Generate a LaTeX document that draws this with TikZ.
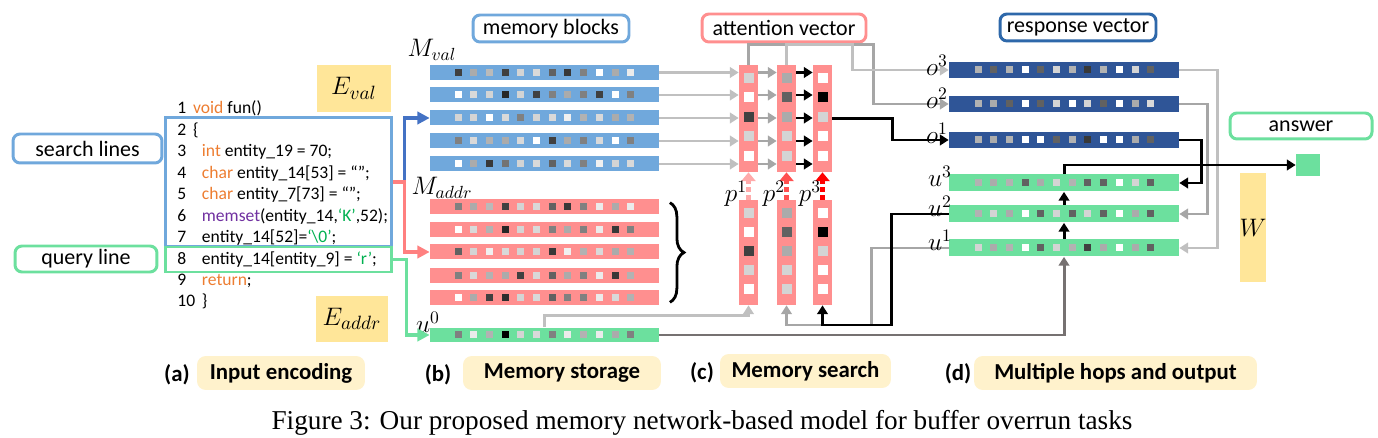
\documentclass[tikz,border=0pt]{standalone}
\usepackage{fontspec}
\setmainfont{Carlito}
\newfontfamily\capfont{Liberation Serif}
\usetikzlibrary{arrows.meta,decorations.pathreplacing}
\definecolor{memblue}{RGB}{112,168,220}
\definecolor{mempink}{RGB}{255,143,143}
\definecolor{memgreen}{RGB}{108,224,158}
\definecolor{respblue}{RGB}{47,85,151}
\definecolor{respframe}{RGB}{46,104,170}
\definecolor{arrowblue}{RGB}{68,114,196}
\definecolor{arrowpink}{RGB}{255,128,128}
\definecolor{encyellow}{RGB}{255,230,153}
\definecolor{tagyellow}{RGB}{255,242,204}
\definecolor{kwcol}{RGB}{237,125,49}
\definecolor{fncol}{RGB}{112,48,160}
\definecolor{strcol}{RGB}{0,176,80}
\definecolor{lgray}{RGB}{192,192,192}
\definecolor{mgray}{RGB}{166,166,166}
\definecolor{dgray}{RGB}{118,113,113}
\definecolor{pone}{RGB}{255,170,170}
\definecolor{ptwo}{RGB}{255,80,80}
\definecolor{pthree}{RGB}{255,0,0}
\newcommand{\kw}[1]{\textcolor{kwcol}{#1}}
\newcommand{\str}[1]{\textcolor{strcol}{#1}}
\begin{document}
\begin{tikzpicture}[x=0.02cm,y=-0.02cm]
	\tikzstyle{Tag} = [draw, rounded corners=4pt, line width=1.7pt, fill=white, inner sep=0pt, font=\fontsize{12.5}{14}\selectfont]
	\tikzstyle{Enc} = [fill=encyellow, inner sep=0pt, font=\fontsize{15}{16}\selectfont]
	\tikzstyle{Row} = [minimum width=4.58cm, minimum height=0.3cm, inner sep=0pt]
	\tikzstyle{Col} = [fill=mempink, minimum width=0.38cm, inner sep=0pt]
	\tikzstyle{Stage} = [fill=tagyellow, rounded corners=5pt, minimum height=0.68cm, inner sep=0pt, font=\bfseries\fontsize{13}{15}\selectfont]
	\tikzstyle{Lab} = [inner sep=0pt, font=\fontsize{14}{15}\selectfont]
	\tikzstyle{Wire} = [line width=1.7pt, -{Triangle[length=5pt,width=6pt]}]
	\tikzstyle{Prob} = [line width=2.5pt, dash pattern=on 2.5pt off 2pt, -{Triangle[length=5pt,width=8pt]}]
	\useasboundingbox (0,0) rectangle (1378,438);

	% input encoding
	\node (slab) at (87.5,148.5) [Tag, draw=memblue, minimum width=2.98cm, minimum height=0.58cm] {search lines};
	\node (qlab) at (86,259) [Tag, draw=memgreen, minimum width=2.84cm, minimum height=0.52cm] {query line};
	\node (srch) at (278.5,182) [draw=memblue, line width=1.7pt, minimum width=4.54cm, minimum height=2.6cm] {};
	\node (qry) at (278.5,259.5) [draw=memgreen, line width=1.7pt, minimum width=4.54cm, minimum height=0.5cm] {};
	\node (code) at (177,114) [anchor=base west, inner sep=0pt, font=\fontsize{10}{12.2}\selectfont] {\begin{tabular}[t]{@{}p{9pt}@{}l@{}}
		1 & \kw{void} fun()\\
		2 & \{\\
		3 & \hspace{5pt}\kw{int} entity\_19 = 70;\\
		4 & \hspace{5pt}\kw{char} entity\_14[53] = “”;\\
		5 & \hspace{5pt}\kw{char} entity\_7[73] = “”;\\
		6 & \hspace{5pt}\textcolor{fncol}{memset}(entity\_14,\str{‘K’},52);\\
		7 & \hspace{5pt}entity\_14[52]=\str{‘\textbackslash 0’};\\
		8 & \hspace{5pt}entity\_14[entity\_9] = \str{‘r’};\\
		9 & \hspace{5pt}\kw{return};\\
		10 & \hspace{5pt}\}
	\end{tabular}};
	\node (eval) at (354,88.5) [Enc, minimum width=1.48cm, minimum height=0.94cm] {$E_{val}$};
	\node (eaddr) at (352,319) [Enc, minimum width=1.44cm, minimum height=0.92cm] {$E_{addr}$};

	% memory storage
	\node (mblk) at (551,28.5) [Tag, draw=memblue, minimum width=3.12cm, minimum height=0.54cm] {memory blocks};
	\foreach \y [count=\i] in {72.5,95,118,141,164}
		\node (mv\i) at (544.5,\y) [Row, fill=memblue] {};
	\foreach \y [count=\i] in {207,229.5,252,275.5,298}
		\node (ma\i) at (544.5,\y) [Row, fill=mempink] {};
	\node (uz) at (544.5,335) [Row, fill=memgreen] {};
	\foreach \y/\vals in {72.5/{75,33,27,75,17,15,62,78,50,0,33,8}, 95/{0,15,17,85,17,75,50,33,50,75,0,50},
		118/{17,17,0,15,50,17,15,6,30,15,33,30}, 141/{50,15,30,33,15,0,75,33,50,15,0,50},
		164/{0,33,78,55,17,15,62,15,50,6,17,15}, 207/{50,33,27,75,17,15,62,78,50,8,33,8},
		229.5/{0,15,30,85,17,15,50,33,50,8,78,50}, 252/{62,17,6,15,17,17,78,6,30,15,33,30},
		275.5/{50,15,30,33,75,15,62,33,50,8,78,30}, 298/{0,33,75,82,17,15,62,50,50,8,15,30},
		335/{50,8,30,100,17,15,50,8,30,8,33,50}}
		\foreach \g [count=\i] in \vals
			\fill[black!\g] ({458+(\i-1)*15.7-3.5},{\y-3.5}) rectangle +(7,7);
	\node (lmv) at (432,50) [Lab] {$M_{val}$};
	\node (lma) at (442,188) [Lab] {$M_{addr}$};
	\node (luz) at (428,322) [Lab] {$u^0$};
	\draw[line width=1.6pt, decorate, decoration={brace, amplitude=8pt}] ([xshift=6pt,yshift=-2pt]ma1.north east) -- ([xshift=6pt,yshift=2pt]ma5.south east);

	% memory search
	\node (attn) at (784,28) [Tag, draw=mempink, minimum width=3.28cm, minimum height=0.56cm] {attention vector};
	\foreach \x [count=\i] in {748.5,786.5,822.5} {
		\node (a\i) at (\x,118.5) [Col, minimum height=2.14cm] {};
		\node (b\i) at (\x,252.5) [Col, minimum height=2.1cm] {};
	}
	\foreach \x/\vals in {748.5/{17,0,75,17,0}, 786.5/{33,62,33,17,17}, 822.5/{0,100,17,0,0}}
		\foreach \g [count=\i] in \vals {
			\fill[black!\g] ({\x-5},{78+(\i-1)*19.5-5}) rectangle +(10,10);
			\fill[black!\g] ({\x-5},{213+(\i-1)*19-5}) rectangle +(10,10);
		}
	\foreach \i in {1,...,5} {
		\draw[Wire, draw=lgray] (mv\i.east) -- (mv\i.east -| a1.west);
		\draw[Wire, draw=mgray] (mv\i.east -| a1.east) -- (mv\i.east -| a2.west);
		\draw[Wire, draw=black] (mv\i.east -| a2.east) -- (mv\i.east -| a3.west);
	}
	\draw[Prob, draw=pone] (b1.north) -- (a1.south);
	\draw[Prob, draw=ptwo] (b2.north) -- (a2.south);
	\draw[Prob, draw=pthree] (b3.north) -- (a3.south);
	\node (lp1) at (736,194) [Lab] {$p^1$};
	\node (lp2) at (774,194) [Lab] {$p^2$};
	\node (lp3) at (810,194) [Lab] {$p^3$};

	% multiple hops and output
	\node (resp) at (1078,27.5) [Tag, draw=respframe, minimum width=3.12cm, minimum height=0.54cm] {response vector};
	\node (o3) at (1064,70) [Row, fill=respblue, minimum width=4.6cm, minimum height=0.32cm] {};
	\node (o2) at (1064,104) [Row, fill=respblue, minimum width=4.6cm, minimum height=0.32cm] {};
	\node (o1) at (1064,140) [Row, fill=respblue, minimum width=4.6cm, minimum height=0.32cm] {};
	\node (u3) at (1064,183) [Row, fill=memgreen, minimum width=4.6cm, minimum height=0.34cm] {};
	\node (u2) at (1064,214) [Row, fill=memgreen, minimum width=4.6cm, minimum height=0.34cm] {};
	\node (u1) at (1064,248) [Row, fill=memgreen, minimum width=4.6cm, minimum height=0.34cm] {};
	\foreach \y/\vals in {70/{30,62,30,0,62,17,30,78,30,0,17,62}, 104/{30,33,62,0,62,17,0,17,62,0,33,15},
		140/{30,33,30,0,0,62,30,78,0,0,33,62}, 183/{30,33,30,62,33,17,30,62,62,0,17,62},
		214/{30,17,33,0,62,17,62,17,62,0,33,62}, 248/{17,33,30,0,62,17,30,75,33,0,33,62}}
		\foreach \g [count=\i] in \vals
			\fill[black!\g] ({978+(\i-1)*15.7-3.5},{\y-3.5}) rectangle +(7,7);
	\node (ans) at (1308,165) [fill=memgreen, minimum width=0.48cm, minimum height=0.44cm, inner sep=0pt] {};
	\node (alab) at (1301,126) [Tag, draw=memgreen, minimum width=2.84cm, minimum height=0.52cm] {answer};
	\node (wmat) at (1253,227.5) [Enc, minimum width=0.44cm, minimum height=2.18cm] {$W$};

	% connectors
	\draw[Wire, line width=2pt, draw=arrowblue, -{Triangle[length=7pt,width=7pt]}] (srch.east) -- ++(11,0) |- (mv3.west);
	\draw[Wire, line width=2pt, draw=arrowpink, -{Triangle[length=7pt,width=7pt]}] (srch.east) -- ++(11,0) |- (ma3.west);
	\draw[Wire, line width=2pt, draw=memgreen, -{Triangle[length=7pt,width=7pt]}] (qry.east) -- ++(13,0) |- (uz.west);
	\draw[Wire, draw=lgray] (uz.north) -- ++(0,-12) -| (b1.south);
	\draw[Wire, draw=dgray] (uz.east) -| (u1.south);
	\draw[Wire, draw=mgray] (u1.west) -- ++(-77,0) -- ++(0,77) -| (b2.south);
	\draw[Wire, draw=black] (u2.west) -- ++(-57,0) -- ++(0,111) -| (b3.south);
	\draw[Wire, draw=mgray] (a1.north) -- ++(0,-20) -- ++(125,0) |- (o2.west);
	\draw[Wire, draw=lgray] (a2.north) -- ++(0,-20) -- ++(66,0) |- (o3.west);
	\draw[Wire, draw=black] (a3.east) -- ++(60,0) |- (o1.west);
	\draw[Wire, draw=lgray] (o3.east) -- ++(38,0) |- (u1.east);
	\draw[Wire, draw=mgray] (o2.east) -- ++(28,0) |- (u2.east);
	\draw[Wire, draw=black] (o1.east) -- ++(22,0) |- (u3.east);
	\draw[Wire, draw=black] (u1.north) -- (u2.south);
	\draw[Wire, draw=black] (u2.north) -- (u3.south);
	\draw[Wire, draw=black] (u3.north) |- (ans.west);
	\node (lo3) at (937,65) [Lab] {$o^3$};
	\node (lo2) at (937,98) [Lab] {$o^2$};
	\node (lo1) at (937,133) [Lab] {$o^1$};
	\node (lu3) at (940,176) [Lab] {$u^3$};
	\node (lu2) at (940,206) [Lab] {$u^2$};
	\node (lu1) at (940,240) [Lab] {$u^1$};

	% stage labels
	\node (sa) at (177,375) [font=\bfseries\fontsize{13}{15}\selectfont] {(a)};
	\node (ta) at (281,373) [Stage, minimum width=3.36cm] {Input encoding};
	\node (sb) at (438,375) [font=\bfseries\fontsize{13}{15}\selectfont] {(b)};
	\node (tb) at (562,373) [Stage, minimum width=3.96cm] {Memory storage};
	\node (sc) at (702,373) [font=\bfseries\fontsize{13}{15}\selectfont] {(c)};
	\node (tc) at (805.5,371) [Stage, minimum width=3.42cm] {Memory search};
	\node (sd) at (958,374) [font=\bfseries\fontsize{13}{15}\selectfont] {(d)};
	\node (td) at (1115.5,373) [Stage, minimum width=5.66cm] {Multiple hops and output};
	\node (cap) at (702,423) [font=\capfont\fontsize{15.5}{18}\selectfont] {Figure 3: Our proposed memory network-based model for buffer overrun tasks};
\end{tikzpicture}
\end{document}
